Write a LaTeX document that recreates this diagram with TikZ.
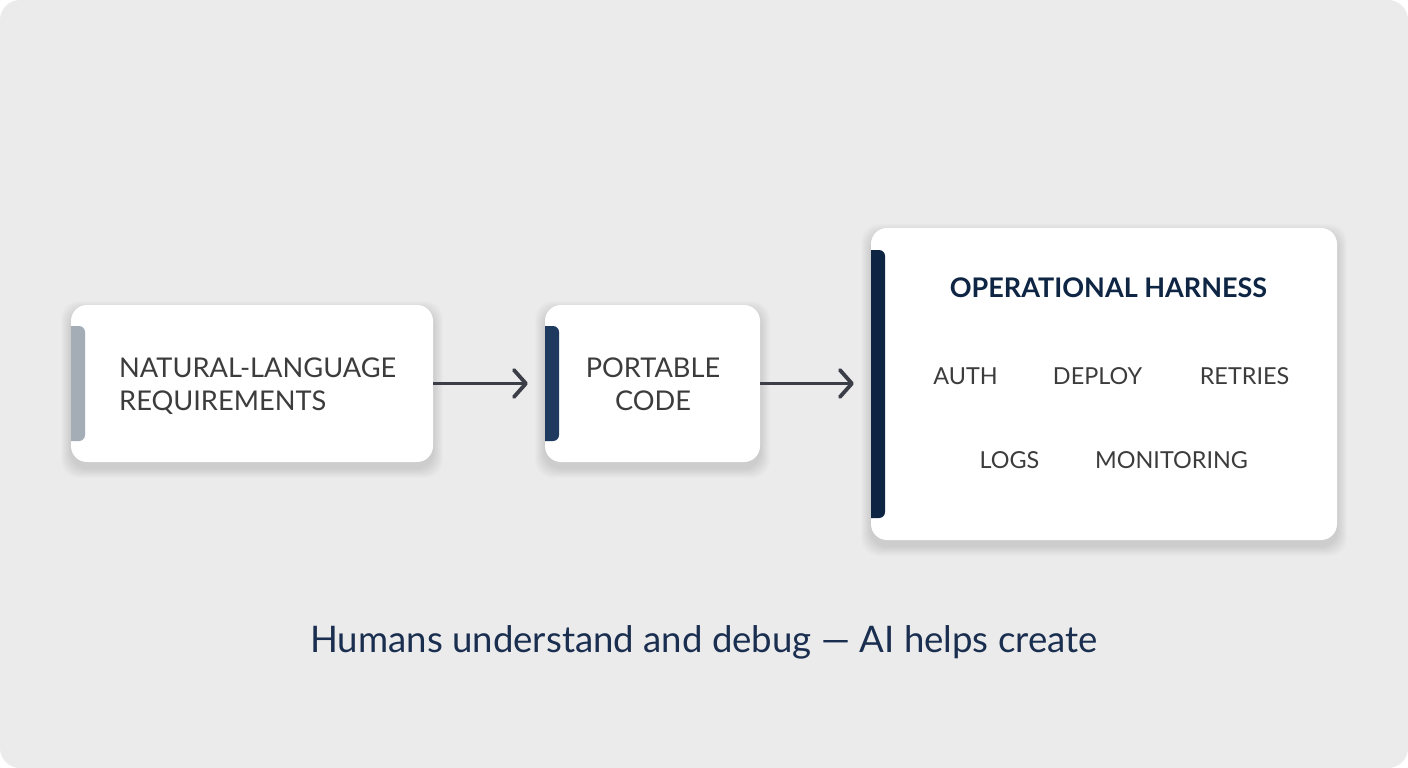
\documentclass[tikz,border=0pt]{standalone}
\usepackage{fontspec}
\setmainfont{Lato}
\usetikzlibrary{arrows.meta,calc}
\definecolor{bgc}{HTML}{EBEBEB}
\definecolor{txt}{HTML}{3C3C3C}
\definecolor{navy}{HTML}{0F2544}
\definecolor{barA}{HTML}{A4ACB6}
\definecolor{barB}{HTML}{1F3A5F}
\definecolor{barC}{HTML}{0D2443}
\definecolor{arrc}{HTML}{3B3E46}
\definecolor{capc}{HTML}{1A2E50}
\newcommand\mysoftshadow[4]{%
  \foreach \i in {1,...,10}{%
    \fill[black,opacity=0.010,rounded corners=18pt] (#1-\i,#2-\i+6) rectangle (#3+\i,#4+\i+6);
  }%
}
\begin{document}
\begin{tikzpicture}[x=1pt,y=-1pt,
  card/.style={fill=white, rounded corners=16pt, inner sep=0pt, draw=none},
  boxtext/.style={text=txt, font=\fontsize{27.2}{33}\selectfont, inner sep=0pt},
  item/.style={text=txt, font=\fontsize{23.4}{28}\selectfont, inner sep=0pt},
  arr/.style={draw=arrc, line width=3.8pt, -{Straight Barb[length=12pt,width=27pt,round]}, shorten >=17pt}
]
\fill[white] (0,0) rectangle (1408,768);
\useasboundingbox (0,0) rectangle (1408,768);
\fill[bgc, rounded corners=20pt] (0,0) rectangle (1408,768);

% shadows
\mysoftshadow{71}{305}{433}{462}
\mysoftshadow{545}{305}{760}{462}
\mysoftshadow{871}{228}{1337}{540}

% cards
\node[card, minimum width=362pt, minimum height=157pt] (req) at (252,383.5) {};
\node[card, minimum width=215pt, minimum height=157pt] (code) at (652.5,383.5) {};
\node[card, minimum width=466pt, minimum height=312pt] (harn) at (1104,384) {};

% accent bars
\begin{scope}
  \clip (71,300) rectangle (100,470);
  \fill[barA, rounded corners=6pt] (60,326) rectangle (85,441);
\end{scope}
\begin{scope}
  \clip (545,300) rectangle (575,470);
  \fill[barB, rounded corners=6pt] (534,326) rectangle (559,441);
\end{scope}
\begin{scope}
  \clip (871,230) rectangle (900,530);
  \fill[barC, rounded corners=6pt] (860,250) rectangle (885,518);
\end{scope}

% texts
\node[boxtext, anchor=west, align=left] (reqt) at (119,386) {NATURAL-LANGUAGE\\REQUIREMENTS};
\node[boxtext, align=center] (codet) at (653,384.5) {PORTABLE\\CODE};
\node[text=navy, font=\fontsize{27}{30}\selectfont\bfseries, inner sep=0pt] (title) at (1108.5,288) {OPERATIONAL HARNESS};
\node[item] (auth) at (965.5,376) {AUTH};
\node[item] (deploy) at (1097.5,376) {DEPLOY};
\node[item] (retries) at (1244.5,376) {RETRIES};
\node[item] (logs) at (1009.5,460) {LOGS};
\node[item] (mon) at (1171.5,460) {MONITORING};

% arrows
\draw[arr] (req.east) -- (code.west);
\draw[arr] (code.east) -- (code.east -| harn.west);

% caption
\node[text=capc, font=\fontsize{36.6}{42}\selectfont, inner sep=0pt] (cap) at (704,642) {Humans understand and debug — AI helps create};
\end{tikzpicture}
\end{document}
